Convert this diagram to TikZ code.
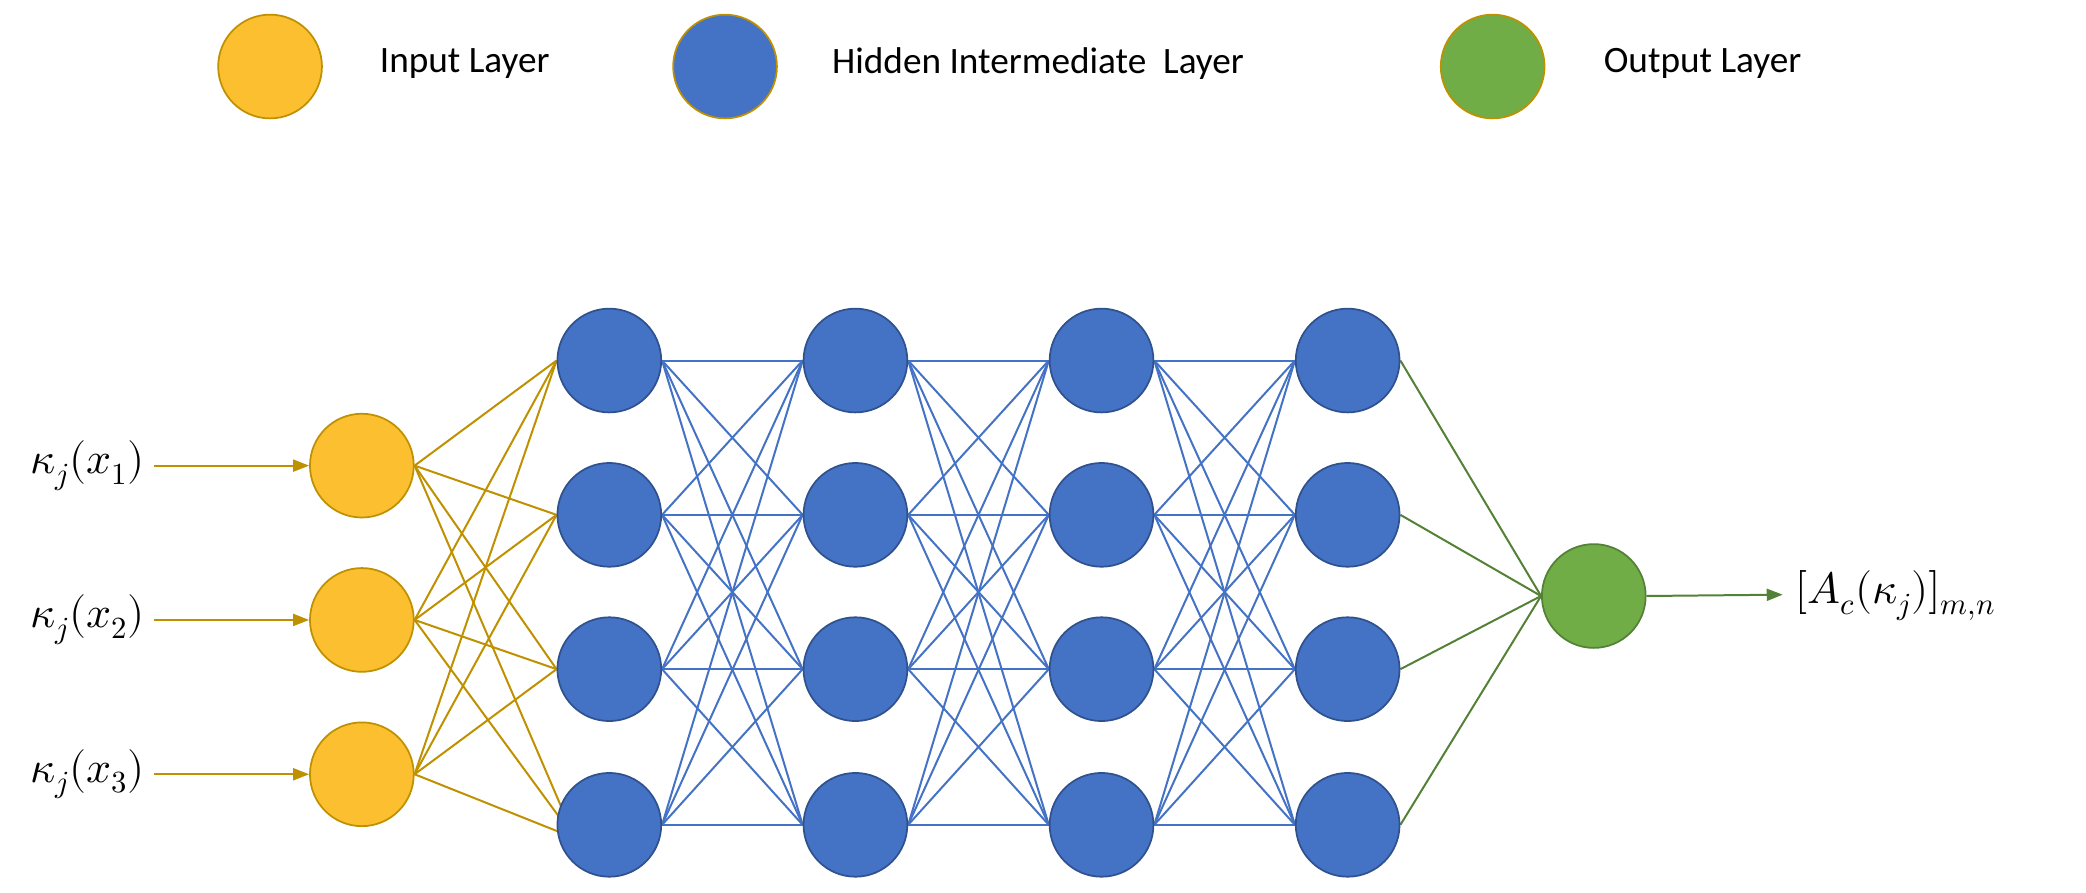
\documentclass[tikz,border=0pt]{standalone}
\usepackage{fontspec}
\setmainfont{Carlito}
\usepackage{unicode-math}
\usetikzlibrary{arrows.meta}
\definecolor{yf}{HTML}{FBBF2F}\definecolor{yd}{HTML}{BF9000}
\definecolor{bf}{HTML}{4472C4}\definecolor{bd}{HTML}{2F528F}
\definecolor{gf}{HTML}{70AD47}\definecolor{gd}{HTML}{538135}
\pgfdeclarelayer{bg}\pgfsetlayers{bg,main}
\tikzset{
 neu/.style={circle,minimum size=78pt,inner sep=0pt,line width=1.3pt},
 inp/.style={neu,fill=yf,draw=yd},
 hid/.style={neu,fill=bf,draw=bd},
 outn/.style={neu,fill=gf,draw=gd},
 leg/.style={font=\fontsize{28}{32}\selectfont,anchor=west},
 ml/.style={font=\fontsize{33}{38}\selectfont},
 ye/.style={draw=yd,line width=1.5pt},
 be/.style={draw=bf,line width=1.5pt},
 ge/.style={draw=gd,line width=1.5pt},
 tip/.style={-{Triangle[length=12pt,width=9pt]}}
}
\begin{document}
\begin{tikzpicture}[x=1pt,y=-1pt]
\useasboundingbox (0,0) rectangle (1568,671);
% legend
\node[inp] (l1) at (203,50) {};
\node[leg] (t1) at (282,48) {Input Layer};
\node[hid,draw=yd] (l2) at (545,50) {};
\node[leg] (t2) at (622,48) {Hidden Intermediate\ \ Layer};
\node[outn,draw=yd] (l3) at (1122,50) {};
\node[leg] (t3) at (1202,48) {Output Layer};
% nodes
\node[outn] (o) at (1198,448) {};
\foreach \i/\y in {1/350,2/466,3/582}{\node[inp] (i\i) at (272,\y) {};}
\foreach \l/\x in {1/458,2/643,3/828,4/1013}{
 \foreach \j/\y in {1/271,2/387,3/503,4/620}{\node[hid] (h\l\j) at (\x,\y) {};}}
% labels
\node[ml] (k1) at (66,350) {$\kappa_j(x_1)$};
\node[ml] (k2) at (66,466) {$\kappa_j(x_2)$};
\node[ml] (k3) at (66,582) {$\kappa_j(x_3)$};
\node[ml,anchor=west] (y) at (1346,448) {$[A_c(\kappa_j)]_{m,n}$};
\coordinate (e14) at (432,630);
\begin{pgfonlayer}{bg}
\foreach \i in {1,2,3}{
 \draw[ye,tip] (k\i.east) ++(3,0) -- (i\i.west);
 \foreach \j in {1,2,3}{\draw[ye] (i\i.east) -- (h1\j.west);}
 \draw[ye] (i\i.east) -- (e14);}
\foreach \l/\m in {1/2,2/3,3/4}{\foreach \a in {1,...,4}{\foreach \b in {1,...,4}{
 \draw[be] (h\l\a.east) -- (h\m\b.west);}}}
\foreach \a in {1,...,4}{\draw[ge] (h4\a.east) -- (o.west);}
\draw[ge,tip] (o.east) -- (1340,447);
\end{pgfonlayer}
\end{tikzpicture}
\end{document}
